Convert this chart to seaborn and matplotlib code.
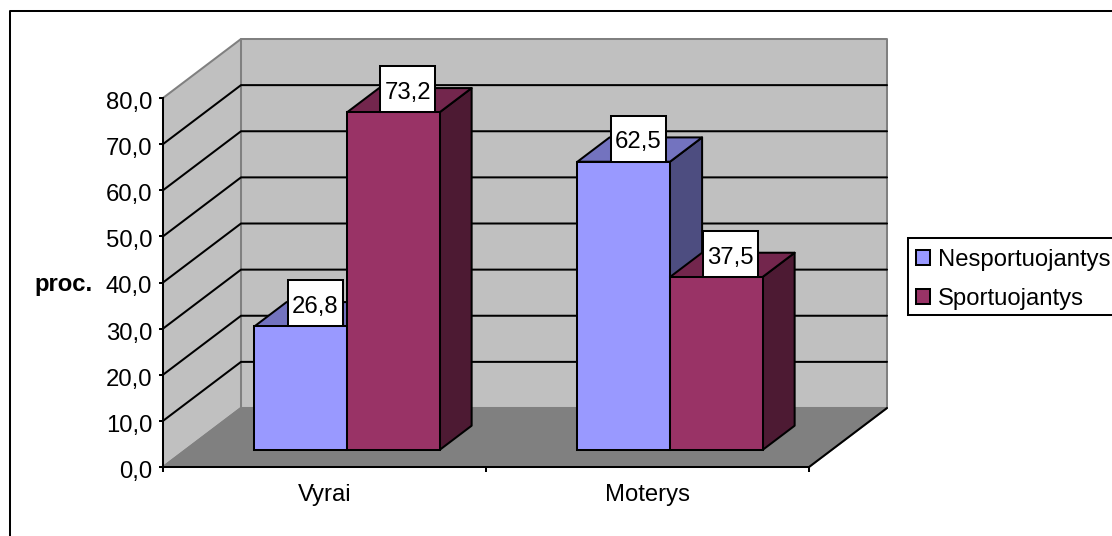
import matplotlib
matplotlib.use("Agg")
import matplotlib.pyplot as plt
import numpy as np
import pandas as pd
import seaborn as sns
from matplotlib.lines import Line2D
from matplotlib.patches import Polygon, Rectangle
from matplotlib.ticker import FuncFormatter
from matplotlib.transforms import Affine2D, IdentityTransform

# Survey shares by gender and sporting activity, percent
groups = ["Vyrai", "Moterys"]
series_names = ["Nesportuojantys", "Sportuojantys"]
nesportuojantys = [26.8, 62.5]
sportuojantys = [73.2, 37.5]
y_ticks = [0, 10, 20, 30, 40, 50, 60, 70, 80]

front_colors = ["#9999FF", "#993366"]
top_colors = ["#7373BF", "#73264D"]
side_colors = ["#4D4D80", "#4D1A33"]
WALL = "#C0C0C0"
FLOOR = "#808080"
EDGE = "#808080"

# Oblique projection of the box, in pixels for full depth
DEPTH_X, DEPTH_Y = 78.0, 59.0
BAR_NEAR, BAR_FAR = 0.288, 0.70
LW = 1.45

sns.set_theme(style="white")
plt.rcParams["font.family"] = ["Liberation Sans", "DejaVu Sans"]
FONT = 17.2

df = pd.DataFrame({
    "grupe": groups * 2,
    "proc": nesportuojantys + sportuojantys,
    "sportas": [series_names[0]] * 2 + [series_names[1]] * 2,
})

fig = plt.figure(figsize=(11.12, 5.36), dpi=100, facecolor="white")
ax = fig.add_axes([163 / 1112, 69 / 536, 646 / 1112, 369 / 536])
ax.patch.set_visible(False)

sns.barplot(data=df, x="grupe", y="proc", hue="sportas", order=groups,
            hue_order=series_names, palette=front_colors, saturation=1,
            width=0.573, gap=0, edgecolor="black", linewidth=LW, ax=ax)
ax.set_xlim(-0.5, 1.5)
ax.set_ylim(0, 80)


def project(x, y, depth=0.0):
    """Display position of a data point pushed back by a fraction of the depth."""
    px, py = ax.transData.transform((x, y))
    return px + depth * DEPTH_X, py + depth * DEPTH_Y


def face(points, color, edge, z, lw=LW):
    ax.add_artist(Polygon(points, closed=True, facecolor=color, edgecolor=edge,
                          linewidth=lw, transform=IdentityTransform(),
                          clip_on=False, zorder=z, joinstyle="round"))


def line(points, color, z, lw=LW):
    xs, ys = zip(*points)
    ax.add_artist(Line2D(xs, ys, color=color, linewidth=lw, zorder=z,
                         transform=IdentityTransform(), clip_on=False))


x0, x1 = ax.get_xlim()
y_top = y_ticks[-1]

# Back wall, side wall and floor of the box
face([project(x0, 0, 1), project(x1, 0, 1), project(x1, y_top, 1), project(x0, y_top, 1)],
     WALL, EDGE, 0.5)
face([project(x0, 0, 0), project(x0, 0, 1), project(x0, y_top, 1), project(x0, y_top, 0)],
     WALL, EDGE, 0.6)
face([project(x0, 0, 0), project(x1, 0, 0), project(x1, 0, 1), project(x0, 0, 1)],
     FLOOR, EDGE, 0.7)
line([project(x1, 0, 0), project(x1, 0, 1)], "black", 0.8)

# Gridlines run along the side wall and across the back wall
for v in y_ticks[1:-1]:
    line([project(x0, v, 0), project(x0, v, 1), project(x1, v, 1)], "black", 1.0)

# Bars sit part way into the box; depth faces are added around each front face
shift = Affine2D().translate(BAR_NEAR * DEPTH_X, BAR_NEAR * DEPTH_Y)
labels_at = []
for s, container in enumerate(ax.containers):
    for bar in container:
        left, width, value = bar.get_x(), bar.get_width(), bar.get_height()
        right = left + width
        z = 3 + s * 0.1
        face([project(right, 0, BAR_NEAR), project(right, 0, BAR_FAR),
              project(right, value, BAR_FAR), project(right, value, BAR_NEAR)],
             side_colors[s], "black", z)
        face([project(left, value, BAR_NEAR), project(right, value, BAR_NEAR),
              project(right, value, BAR_FAR), project(left, value, BAR_FAR)],
             top_colors[s], "black", z)
        bar.set_transform(ax.transData + shift)
        bar.set_clip_on(False)
        bar.set_zorder(z + 0.05)
        labels_at.append((left + width / 2, value))

# Value labels in white boxes resting on the bars
BOX_W, BOX_H = 55.0, 46.0
for xc, value in labels_at:
    cx, base = project(xc, value, BAR_NEAR)
    cx += 14.5
    ax.add_artist(Rectangle((cx - BOX_W / 2, base), BOX_W, BOX_H, facecolor="white",
                            edgecolor="black", linewidth=LW, zorder=6,
                            transform=IdentityTransform(), clip_on=False))
    ax.text(cx, base + BOX_H / 2 - 1, f"{value:.1f}".replace(".", ","), fontsize=FONT,
            color="black", ha="center", va="center_baseline", zorder=7,
            transform=IdentityTransform(), clip_on=False)

# Axes
sns.despine(ax=ax, top=True, right=True)
for side in ("left", "bottom"):
    ax.spines[side].set_color("black")
    ax.spines[side].set_linewidth(LW)
    ax.spines[side].set_zorder(2.5)
ax.set_yticks(y_ticks)
ax.yaxis.set_major_formatter(FuncFormatter(lambda v, _: f"{v:.1f}".replace(".", ",")))
ax.tick_params(axis="y", which="major", left=True, length=3.2, width=LW, color="black",
               labelsize=FONT, labelcolor="black", pad=4.7)
# Value-axis labels sit slightly below their ticks
label_nudge = Affine2D().translate(0, -2.5)
for tick in ax.yaxis.get_major_ticks():
    tick.label1.set_transform(tick.label1.get_transform() + label_nudge)
ax.set_xticks(range(len(groups)), labels=groups)
ax.set_xticks([-0.5, 0.5, 1.5], minor=True)
ax.tick_params(axis="x", which="major", bottom=False, labelsize=FONT, labelcolor="black", pad=6)
ax.tick_params(axis="x", which="minor", bottom=True, length=3.6, width=LW, color="black")
ax.set_xlabel("")
ax.set_ylabel("proc.", rotation=0, fontsize=FONT, fontweight="bold", color="black",
              ha="center", va="center")
ax.yaxis.set_label_coords((64 - 163) / 646, (467 - 285) / 369)

# Legend, wide enough to run off the right edge of the figure
handles, names = ax.get_legend_handles_labels()
legend = ax.legend(handles, names, loc="upper left",
                   bbox_to_anchor=(908 / 1112, 1 - 238 / 536), bbox_transform=fig.transFigure,
                   fontsize=FONT, frameon=True, fancybox=False, framealpha=1,
                   edgecolor="black", borderaxespad=0, borderpad=0.34,
                   handlelength=0.6, handleheight=0.6, handletextpad=0.33,
                   labelspacing=0.7)
legend.get_frame().set_linewidth(LW)
legend.set_zorder(8)
for text in legend.get_texts():
    text.set_color("black")
    text.set_y(-3)
for handle in legend.legend_handles:
    handle.set_edgecolor("black")
    handle.set_linewidth(LW)
    handle.set_y(handle.get_y() - 2.2)

# Chart area border
fig.add_artist(Line2D([9.5 / 1112, 9.5 / 1112, 1.0], [0.0, 1 - 11 / 536, 1 - 11 / 536],
                      color="black", linewidth=LW, transform=fig.transFigure))

fig.savefig("out.png", dpi=100, facecolor="white")
